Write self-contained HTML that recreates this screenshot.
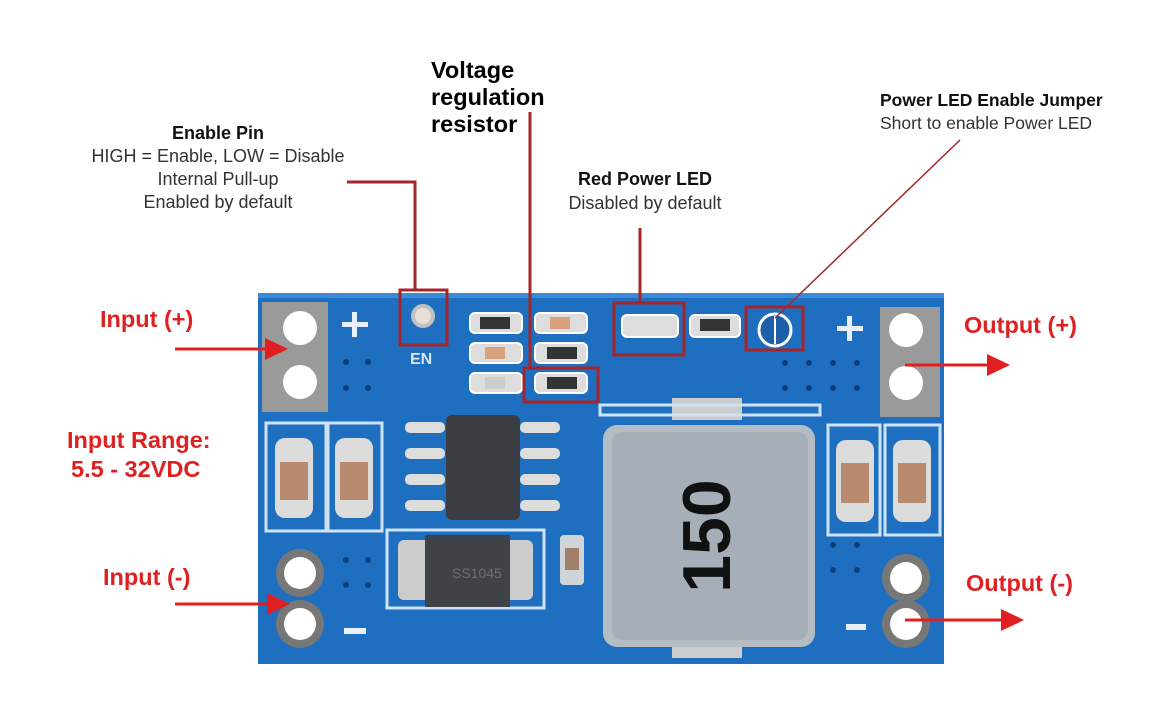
<!DOCTYPE html>
<html><head><style>
body{margin:0;background:#fff;width:1171px;height:720px;overflow:hidden;font-family:"Liberation Sans",sans-serif}
</style></head><body>
<svg width="1171" height="720" viewBox="0 0 1171 720" xmlns="http://www.w3.org/2000/svg" font-family="Liberation Sans, sans-serif">
<rect width="1171" height="720" fill="#fff"/>
<!-- board -->
<rect x="258" y="293" width="686" height="371" fill="#1f6fc0"/>
<rect x="258" y="293" width="686" height="5" fill="#3a8ad6"/>
<!-- left pads -->
<rect x="262" y="302" width="66" height="110" fill="#9a9a9a"/>
<circle cx="300" cy="328" r="17" fill="#fff"/><circle cx="300" cy="382" r="17" fill="#fff"/>
<circle cx="300" cy="573" r="24" fill="#777"/><circle cx="300" cy="624" r="24" fill="#777"/>
<circle cx="300" cy="573" r="16" fill="#fff"/><circle cx="300" cy="624" r="16" fill="#fff"/>
<!-- right pads -->
<rect x="880" y="307" width="60" height="110" fill="#9a9a9a"/>
<circle cx="906" cy="330" r="17" fill="#fff"/><circle cx="906" cy="383" r="17" fill="#fff"/>
<circle cx="906" cy="578" r="24" fill="#777"/><circle cx="906" cy="624" r="24" fill="#777"/>
<circle cx="906" cy="578" r="16" fill="#fff"/><circle cx="906" cy="624" r="16" fill="#fff"/>
<!-- + - signs -->
<g fill="#e8f1fb"><rect x="342" y="322" width="26" height="5"/><rect x="352" y="312" width="5" height="25"/>
<rect x="837" y="326" width="26" height="5"/><rect x="847" y="316" width="5" height="25"/>
<rect x="344" y="628" width="22" height="6"/><rect x="846" y="624" width="20" height="6"/></g>
<text x="410" y="364" font-size="16" font-weight="bold" fill="#d8e6f5">EN</text>
<!-- vias -->
<g fill="#0c3f78"><circle cx="346" cy="362" r="3"/><circle cx="368" cy="362" r="3"/><circle cx="346" cy="388" r="3"/><circle cx="368" cy="388" r="3"/><circle cx="346" cy="560" r="3"/><circle cx="368" cy="560" r="3"/><circle cx="346" cy="585" r="3"/><circle cx="368" cy="585" r="3"/>
<circle cx="785" cy="363" r="3"/><circle cx="809" cy="363" r="3"/><circle cx="833" cy="363" r="3"/><circle cx="857" cy="363" r="3"/><circle cx="785" cy="388" r="3"/><circle cx="809" cy="388" r="3"/><circle cx="833" cy="388" r="3"/><circle cx="857" cy="388" r="3"/><circle cx="833" cy="545" r="3"/><circle cx="857" cy="545" r="3"/><circle cx="833" cy="570" r="3"/><circle cx="857" cy="570" r="3"/></g>
<!-- caps left -->
<g><rect x="266" y="423" width="60" height="108" fill="none" stroke="#cfe3f7" stroke-width="3"/><rect x="328" y="423" width="54" height="108" fill="none" stroke="#cfe3f7" stroke-width="3"/>
<rect x="275" y="438" width="38" height="80" rx="10" fill="#dcdcdc"/><rect x="280" y="462" width="28" height="38" fill="#b98b6e"/>
<rect x="335" y="438" width="38" height="80" rx="10" fill="#dcdcdc"/><rect x="340" y="462" width="28" height="38" fill="#b98b6e"/></g>
<!-- caps right -->
<g><rect x="828" y="425" width="52" height="110" fill="none" stroke="#cfe3f7" stroke-width="3"/><rect x="885" y="425" width="55" height="110" fill="none" stroke="#cfe3f7" stroke-width="3"/>
<rect x="836" y="440" width="38" height="82" rx="10" fill="#dcdcdc"/><rect x="841" y="463" width="28" height="40" fill="#b98b6e"/>
<rect x="893" y="440" width="38" height="82" rx="10" fill="#dcdcdc"/><rect x="898" y="463" width="28" height="40" fill="#b98b6e"/></g>
<!-- EN pin -->
<circle cx="423" cy="316" r="12" fill="#c0c0c0"/><circle cx="423" cy="316" r="8" fill="#e8e0d8"/>
<!-- small resistors -->
<g fill="#ddd" stroke="#fff" stroke-width="2">
<rect x="470" y="313" width="52" height="20" rx="5"/><rect x="535" y="313" width="52" height="20" rx="5"/>
<rect x="470" y="343" width="52" height="20" rx="5"/><rect x="535" y="343" width="52" height="20" rx="5"/>
<rect x="470" y="373" width="52" height="20" rx="5"/><rect x="535" y="373" width="52" height="20" rx="5"/>
<rect x="622" y="315" width="56" height="22" rx="5"/><rect x="690" y="315" width="50" height="22" rx="5"/></g>
<g fill="#333"><rect x="480" y="317" width="30" height="12"/><rect x="547" y="347" width="30" height="12"/><rect x="547" y="377" width="30" height="12"/><rect x="700" y="319" width="30" height="12"/></g>
<g fill="#d6a37e"><rect x="550" y="317" width="20" height="12"/><rect x="485" y="347" width="20" height="12"/><rect x="485" y="377" width="20" height="12" fill="#ccc"/></g>
<circle cx="775" cy="330" r="16" fill="#1a5fa8" stroke="#fff" stroke-width="3"/><rect x="774" y="316" width="2" height="28" fill="#fff"/>
<!-- IC -->
<g fill="#ddd"><rect x="405" y="422" width="40" height="11" rx="5"/><rect x="405" y="448" width="40" height="11" rx="5"/><rect x="405" y="474" width="40" height="11" rx="5"/><rect x="405" y="500" width="40" height="11" rx="5"/>
<rect x="520" y="422" width="40" height="11" rx="5"/><rect x="520" y="448" width="40" height="11" rx="5"/><rect x="520" y="474" width="40" height="11" rx="5"/><rect x="520" y="500" width="40" height="11" rx="5"/></g>
<rect x="446" y="415" width="74" height="105" rx="6" fill="#3a3d42"/>
<!-- diode -->
<rect x="387" y="530" width="157" height="78" fill="none" stroke="#cfe3f7" stroke-width="3"/>
<rect x="398" y="540" width="40" height="60" rx="6" fill="#ccc"/><rect x="493" y="540" width="40" height="60" rx="6" fill="#ccc"/>
<rect x="425" y="535" width="85" height="72" fill="#3f4247"/>
<text x="452" y="578" font-size="14" fill="#6b6e72">SS1045</text>
<rect x="560" y="535" width="24" height="50" rx="4" fill="#cfd4d9"/><rect x="565" y="548" width="14" height="22" fill="#a07f6a"/>
<!-- inductor -->
<rect x="672" y="398" width="70" height="22" fill="#ccc"/><rect x="672" y="636" width="70" height="22" fill="#ccc"/>
<rect x="600" y="405" width="220" height="10" fill="none" stroke="#cfe3f7" stroke-width="3"/>
<rect x="603" y="425" width="212" height="222" rx="14" fill="#b4bcc4"/>
<rect x="612" y="432" width="196" height="208" rx="10" fill="#a6afb8"/>
<text transform="translate(730,536) rotate(-90)" x="0" y="0" font-size="68" font-weight="bold" fill="#111" text-anchor="middle">150</text>
<!-- annotation boxes -->
<g fill="none" stroke="#a4262a" stroke-width="3">
<rect x="400" y="290" width="47" height="55"/><rect x="524" y="368" width="74" height="34"/><rect x="614" y="303" width="70" height="52"/><rect x="746" y="307" width="57" height="43"/>
<polyline points="347,182 415,182 415,290"/><line x1="530" y1="112" x2="530" y2="368"/><line x1="640" y1="228" x2="640" y2="303"/></g>
<line x1="960" y1="140" x2="775" y2="318" stroke="#a4262a" stroke-width="1.5"/>
<!-- arrows -->
<g stroke="#e02020" stroke-width="3" fill="#e02020">
<line x1="175" y1="349" x2="270" y2="349"/><polygon points="288,349 265,338 265,360" stroke="none"/>
<line x1="175" y1="604" x2="272" y2="604"/><polygon points="290,604 267,593 267,615" stroke="none"/>
<line x1="905" y1="365" x2="992" y2="365"/><polygon points="1010,365 987,354 987,376" stroke="none"/>
<line x1="905" y1="620" x2="1006" y2="620"/><polygon points="1024,620 1001,609 1001,631" stroke="none"/></g>
<!-- labels -->
<g font-size="23.5" font-weight="bold" fill="#e02020">
<text x="100" y="327">Input (+)</text><text x="67" y="448">Input Range:</text><text x="71" y="477">5.5 - 32VDC</text>
<text x="103" y="585">Input (-)</text><text x="964" y="333">Output (+)</text><text x="966" y="591">Output (-)</text></g>
<g font-size="18" fill="#333" text-anchor="middle">
<text x="218" y="139" font-weight="bold" fill="#111">Enable Pin</text>
<text x="218" y="162">HIGH = Enable, LOW = Disable</text>
<text x="218" y="185">Internal Pull-up</text>
<text x="218" y="208">Enabled by default</text>
<text x="645" y="185" font-weight="bold" fill="#111">Red Power LED</text>
<text x="645" y="209">Disabled by default</text></g>
<g font-size="17.5" fill="#333">
<text x="880" y="106" font-weight="bold" fill="#111">Power LED Enable Jumper</text>
<text x="880" y="129">Short to enable Power LED</text></g>
<g font-size="23.5" font-weight="bold" fill="#000">
<text x="431" y="78">Voltage</text><text x="431" y="105">regulation</text><text x="431" y="132">resistor</text></g>
</svg>
</body></html>
